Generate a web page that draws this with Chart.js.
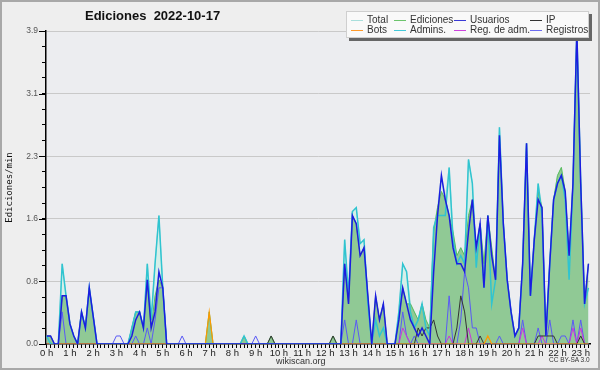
<!DOCTYPE html>
<html lang="es">
<head>
<meta charset="UTF-8">
<title>Ediciones 2022-10-17</title>
<script src="https://cdn.jsdelivr.net/npm/chart.js@4.4.0/dist/chart.umd.min.js"></script>
<style>
  html, body { margin: 0; padding: 0; background: #eeeeee; }
  #wrap { position: relative; width: 600px; height: 370px; overflow: hidden; font-family: 'Liberation Sans', Arial, sans-serif; }
  #frame { position: absolute; left: 0; top: 0; width: 600px; height: 370px; box-sizing: border-box; border: 2px solid #a8a8a8; pointer-events: none; }
  #title { position: absolute; left: 85px; top: 8px; font: bold 13px 'Liberation Sans', Arial, sans-serif; color: #111; white-space: pre; }
  #legend { position: absolute; left: 346px; top: 11px; width: 243px; height: 27px; box-sizing: border-box; background: #f9f9f9; border: 1px solid #cfcfcf; box-shadow: 3px 3px 0 #666; }
  .lg-text { position: absolute; font-size: 10px; line-height: 10px; color: #333; white-space: nowrap; }
  .lg-sw { position: absolute; width: 12px; height: 1px; }
  #site { position: absolute; left: 276px; top: 356px; font-size: 9px; line-height: 10px; color: #333; }
  #lic { position: absolute; left: 549px; top: 356px; font-size: 6.5px; line-height: 8px; color: #333; }
</style>
</head>
<body>
<div id="wrap">
  <canvas id="chart" width="600" height="370"></canvas>
  <div id="title">Ediciones  2022-10-17</div>
  <div id="legend"></div>
  <div id="site">wikiscan.org</div>
  <div id="lic">CC BY-SA 3.0</div>
  <div id="frame"></div>
</div>
<script>
// one value every 10 minutes, 0:00 .. 23:20 (edits per minute)
const hourLabels = ['0 h', '1 h', '2 h', '3 h', '4 h', '5 h', '6 h', '7 h', '8 h', '9 h', '10 h', '11 h',
  '12 h', '13 h', '14 h', '15 h', '16 h', '17 h', '18 h', '19 h', '20 h', '21 h', '22 h', '23 h']
const yLabels = ['0.0', '0.8', '1.6', '2.3', '3.1', '3.9']

const total = [
  0.1, 0.1, 0, 0, 1.0, 0.6,
  0.25, 0.1, 0, 0.4, 0.2, 0.7,
  0.35, 0, 0, 0, 0, 0,
  0, 0, 0, 0, 0.2, 0.4,
  0.4, 0.2, 1.0, 0.3, 1.0, 1.6,
  0.7, 0, 0, 0, 0, 0,
  0, 0, 0, 0, 0, 0,
  0.4, 0, 0, 0, 0, 0,
  0, 0, 0, 0.1, 0, 0,
  0, 0, 0, 0, 0.1, 0,
  0, 0, 0, 0, 0, 0,
  0, 0, 0, 0, 0, 0,
  0, 0, 0.1, 0, 0, 1.3,
  0.6, 1.65, 1.7, 1.25, 1.3, 0.6,
  0, 0.6, 0.3, 0.5, 0, 0,
  0, 0.4, 1.0, 0.9, 0.5, 0.4,
  0.3, 0.5, 0.3, 0.2, 1.45, 1.7,
  2.1, 1.8, 2.2, 1.4, 1.1, 1.2,
  1.1, 2.3, 2.0, 1.2, 1.5, 1.0,
  1.6, 1.2, 0.8, 2.7, 1.5, 0.8,
  0.4, 0.1, 0.2, 1.0, 2.5, 0.6,
  1.3, 2.0, 1.7, 0.1, 1.0, 1.8,
  2.1, 2.2, 1.9, 1.1, 2.0, 3.9,
  2.0, 0.5, 1.0
]
const edits = [
  0.1, 0.1, 0, 0, 0.6, 0.6,
  0.25, 0.1, 0, 0.4, 0.2, 0.7,
  0.35, 0, 0, 0, 0, 0,
  0, 0, 0, 0, 0.2, 0.4,
  0.4, 0.2, 0.8, 0.2, 0.6, 0.8,
  0.7, 0, 0, 0, 0, 0,
  0, 0, 0, 0, 0, 0,
  0.4, 0, 0, 0, 0, 0,
  0, 0, 0, 0.1, 0, 0,
  0, 0, 0, 0, 0.1, 0,
  0, 0, 0, 0, 0, 0,
  0, 0, 0, 0, 0, 0,
  0, 0, 0.1, 0, 0, 1.0,
  0.5, 1.6, 1.5, 1.1, 1.2, 0.6,
  0, 0.6, 0.3, 0.5, 0, 0,
  0, 0.3, 0.7, 0.5, 0.5, 0.4,
  0.3, 0.5, 0.3, 0.2, 1.4, 1.7,
  1.9, 1.8, 1.6, 1.4, 1.1, 1.2,
  1.1, 1.6, 1.8, 1.2, 1.5, 1.0,
  1.6, 1.2, 0.8, 2.6, 1.5, 0.8,
  0.4, 0.1, 0.2, 1.0, 2.5, 0.6,
  1.3, 1.9, 1.7, 0.1, 1.0, 1.8,
  2.1, 2.2, 1.9, 1.1, 2.0, 3.9,
  2.0, 0.5, 1.0
]
const users = [
  0.1, 0.1, 0, 0, 0.6, 0.6,
  0.25, 0.1, 0, 0.4, 0.2, 0.7,
  0.35, 0, 0, 0, 0, 0,
  0, 0, 0, 0, 0.1, 0.3,
  0.4, 0.2, 0.8, 0.2, 0.4, 0.9,
  0.7, 0, 0, 0, 0, 0,
  0, 0, 0, 0, 0, 0,
  0, 0, 0, 0, 0, 0,
  0, 0, 0, 0, 0, 0,
  0, 0, 0, 0, 0, 0,
  0, 0, 0, 0, 0, 0,
  0, 0, 0, 0, 0, 0,
  0, 0, 0, 0, 0, 1.0,
  0.5, 1.6, 1.5, 1.1, 1.2, 0.6,
  0, 0.6, 0.3, 0.5, 0, 0,
  0, 0.3, 0.7, 0.5, 0.3, 0.2,
  0.1, 0.2, 0.1, 0, 0.9, 1.6,
  2.1, 1.8, 1.6, 1.2, 1.0, 1.0,
  0.9, 1.4, 1.8, 1.2, 1.5, 0.7,
  1.6, 1.1, 0.8, 2.6, 1.5, 0.8,
  0.4, 0.1, 0.2, 1.0, 2.5, 0.6,
  1.3, 1.8, 1.7, 0.1, 1.0, 1.8,
  2.0, 2.1, 1.9, 1.1, 2.0, 3.9,
  2.0, 0.5, 1.0
]
const admins = [
  0.1, 0, 0, 0, 1.0, 0.6,
  0.25, 0.1, 0, 0.4, 0.2, 0.7,
  0.35, 0, 0, 0, 0, 0,
  0, 0, 0, 0, 0.2, 0.4,
  0.4, 0.2, 1.0, 0.3, 1.0, 1.6,
  0.7, 0, 0, 0, 0, 0,
  0, 0, 0, 0, 0, 0,
  0, 0, 0, 0, 0, 0,
  0, 0, 0, 0.1, 0, 0,
  0, 0, 0, 0, 0, 0,
  0, 0, 0, 0, 0, 0,
  0, 0, 0, 0, 0, 0,
  0, 0, 0, 0, 0, 1.3,
  0.6, 1.65, 1.7, 1.25, 1.3, 0.5,
  0, 0.3, 0.1, 0.2, 0, 0,
  0, 0.4, 1.0, 0.9, 0.4, 0.2,
  0.3, 0.5, 0.2, 0.1, 1.45, 1.6,
  1.6, 1.6, 2.2, 1.3, 1.0, 1.1,
  1.0, 2.3, 2.0, 0.95, 1.5, 0.7,
  1.6, 0.5, 0.8, 2.7, 1.5, 0.8,
  0.4, 0.1, 0.2, 1.0, 2.5, 0.6,
  1.3, 2.0, 1.6, 0.1, 1.0, 1.8,
  2.0, 2.1, 1.8, 0.8, 2.0, 3.9,
  2.0, 0.5, 0.7
]
const registros = [
  0, 0, 0, 0, 0.4, 0,
  0, 0, 0, 0, 0, 0,
  0, 0, 0, 0, 0, 0,
  0.1, 0.1, 0, 0, 0, 0.1,
  0, 0, 0.2, 0, 0.3, 0.7,
  0.7, 0, 0, 0, 0, 0.1,
  0, 0, 0, 0, 0, 0,
  0, 0, 0, 0, 0, 0,
  0, 0, 0, 0, 0, 0,
  0.1, 0, 0, 0, 0, 0,
  0, 0, 0, 0, 0, 0,
  0, 0, 0, 0, 0, 0,
  0, 0, 0, 0, 0, 0.3,
  0, 0, 0.3, 0, 0, 0,
  0, 0, 0, 0, 0, 0,
  0, 0, 0.4, 0.1, 0, 0.1,
  0, 0, 0, 0, 0, 0,
  0, 0, 0.6, 0, 0, 0.3,
  0.9, 0.7, 0.2, 0.2, 0, 0,
  0, 0, 0, 0.1, 0, 0,
  0, 0, 0, 0.3, 0, 0,
  0, 0.2, 0, 0, 0.3, 0,
  0, 0.1, 0.1, 0, 0.3, 0,
  0.3, 0, 0
]
const ip = [
  0, 0, 0, 0, 0, 0,
  0, 0, 0, 0, 0, 0,
  0, 0, 0, 0, 0, 0,
  0, 0, 0, 0, 0, 0,
  0, 0, 0, 0, 0, 0,
  0, 0, 0, 0, 0, 0,
  0, 0, 0, 0, 0, 0,
  0, 0, 0, 0, 0, 0,
  0, 0, 0, 0, 0, 0,
  0, 0, 0, 0, 0.1, 0,
  0, 0, 0, 0, 0, 0,
  0, 0, 0, 0, 0, 0,
  0, 0, 0.1, 0, 0, 0,
  0, 0, 0, 0, 0, 0,
  0, 0, 0, 0, 0, 0,
  0, 0, 0, 0, 0, 0,
  0.2, 0.1, 0.2, 0.2, 0.3, 0.1,
  0, 0, 0, 0, 0.2, 0.6,
  0.4, 0, 0, 0, 0.1, 0,
  0, 0, 0, 0, 0, 0,
  0, 0, 0, 0, 0, 0,
  0, 0.1, 0.1, 0.1, 0.1, 0.1,
  0, 0, 0, 0, 0, 0,
  0.1, 0, 0
]
const regAdm = [
  0, 0, 0, 0, 0, 0,
  0, 0, 0, 0, 0, 0,
  0, 0, 0, 0, 0, 0,
  0, 0, 0, 0, 0, 0,
  0, 0, 0, 0, 0, 0,
  0, 0, 0, 0, 0, 0,
  0, 0, 0, 0, 0, 0,
  0, 0, 0, 0, 0, 0,
  0, 0, 0, 0, 0, 0,
  0, 0, 0, 0, 0, 0,
  0, 0, 0, 0, 0, 0,
  0, 0, 0, 0, 0, 0,
  0, 0, 0, 0, 0, 0,
  0, 0, 0, 0, 0, 0,
  0, 0, 0, 0, 0, 0,
  0, 0, 0.2, 0.1, 0, 0,
  0, 0, 0, 0, 0, 0,
  0, 0, 0.1, 0, 0, 0,
  0, 0.2, 0, 0, 0, 0,
  0, 0, 0, 0, 0, 0,
  0, 0, 0, 0.2, 0, 0,
  0, 0, 0.1, 0, 0, 0,
  0, 0, 0, 0, 0.2, 0,
  0.2, 0, 0
]
const bots = [
  0, 0, 0, 0, 0, 0,
  0, 0, 0, 0, 0, 0,
  0, 0, 0, 0, 0, 0,
  0, 0, 0, 0, 0, 0,
  0, 0, 0, 0, 0, 0,
  0, 0, 0, 0, 0, 0,
  0, 0, 0, 0, 0, 0,
  0.4, 0, 0, 0, 0, 0,
  0, 0, 0, 0, 0, 0,
  0, 0, 0, 0, 0, 0,
  0, 0, 0, 0, 0, 0,
  0, 0, 0, 0, 0, 0,
  0, 0, 0, 0, 0, 0,
  0, 0, 0, 0, 0, 0,
  0, 0, 0, 0, 0, 0,
  0, 0, 0, 0, 0, 0,
  0, 0, 0, 0, 0, 0,
  0, 0, 0, 0, 0, 0,
  0, 0, 0, 0, 0, 0,
  0.1, 0, 0, 0, 0, 0,
  0, 0, 0, 0, 0, 0,
  0, 0, 0, 0, 0, 0,
  0, 0, 0, 0, 0, 0,
  0, 0, 0
]

// legend layout: two rows of four, same order as the original
const legendItems = [
  { name: 'Total', color: '#a9dfdc' },
  { name: 'Ediciones', color: '#6cc46c' },
  { name: 'Usuarios', color: '#3a3ad6' },
  { name: 'IP', color: '#333333' },
  { name: 'Bots', color: '#ff9a2a' },
  { name: 'Admins.', color: '#44c8d8' },
  { name: 'Reg. de adm.', color: '#cc44dd' },
  { name: 'Registros', color: '#6c6cf0' },
]

const legendBox = document.getElementById('legend')
const colX = [4, 47, 107, 183]
legendItems.forEach((item, i) => {
  const col = i % 4
  const row = Math.floor(i / 4)
  const sw = document.createElement('div')
  sw.className = 'lg-sw'
  sw.style.left = colX[col] + 'px'
  sw.style.top = (8 + row * 10) + 'px'
  sw.style.background = item.color
  legendBox.appendChild(sw)
  const t = document.createElement('div')
  t.className = 'lg-text'
  t.style.left = (colX[col] + 16) + 'px'
  t.style.top = (3 + row * 10) + 'px'
  t.textContent = item.name
  legendBox.appendChild(t)
})

function pts(arr) {
  return arr.map((v, i) => ({ x: i, y: v }))
}

function line(label, arr, color, width, order, extra) {
  return Object.assign({
    label: label,
    data: pts(arr),
    borderColor: color,
    borderWidth: width,
    pointRadius: 0,
    tension: 0,
    fill: false,
    order: order,
  }, extra || {})
}

const bgPlugin = {
  id: 'plotBg',
  beforeDraw(chart) {
    const ctx = chart.ctx
    const a = chart.chartArea
    ctx.save()
    ctx.fillStyle = '#eeeeee'
    ctx.fillRect(0, 0, chart.width, chart.height)
    ctx.fillStyle = '#ecedf0'
    ctx.fillRect(a.left, a.top, a.right - a.left, a.bottom - a.top)
    ctx.restore()
  },
  // longer tick marks on the labelled y values
  afterDraw(chart) {
    const ctx = chart.ctx
    const y = chart.scales.y
    ctx.save()
    ctx.strokeStyle = '#000'
    ctx.lineWidth = 1
    y.ticks.forEach((t, i) => {
      if (i % 4 !== 0) return
      const py = Math.round(y.getPixelForValue(t.value)) + 0.5
      ctx.beginPath()
      ctx.moveTo(y.right - 7, py)
      ctx.lineTo(y.right, py)
      ctx.stroke()
    })
    ctx.restore()
  },
}

const yMax = 3.9
const ctx = document.getElementById('chart').getContext('2d')
new Chart(ctx, {
  type: 'line',
  data: {
    datasets: [
      line('Total', total, '#a9dfdc', 1, 10, { fill: 'origin', backgroundColor: '#d6efe9' }),
      line('Ediciones', edits, '#5cbc5c', 1, 9, { fill: 'origin', backgroundColor: '#90c995' }),
      line('Registros', registros, '#5a5af5', 1, 7),
      line('Reg. de adm.', regAdm, '#cc33dd', 1, 6),
      line('IP', ip, '#333333', 1, 5),
      line('Bots', bots, '#ff9900', 1.2, 4),
      line('Admins.', admins, '#30c4d0', 1.5, 3),
      line('Usuarios', users, '#1c1ce0', 1.5, 2),
    ],
  },
  options: {
    responsive: false,
    animation: false,
    devicePixelRatio: 1,
    layout: { padding: { left: 0, top: 31, right: 10, bottom: 0 } },
    plugins: { legend: { display: false }, title: { display: false }, tooltip: { enabled: false } },
    scales: {
      x: {
        type: 'linear',
        min: -0.18,
        max: 140.4,
        z: 1,
        afterFit(scale) { scale.height = 26 },
        afterBuildTicks(scale) {
          const t = []
          for (let i = 0; i <= 140; i++) t.push({ value: i })
          scale.ticks = t
        },
        grid: { drawOnChartArea: false, tickLength: 4, color: '#000', tickColor: '#000', tickWidth: 1 },
        border: { color: '#000', width: 1.5 },
        ticks: {
          autoSkip: false,
          maxRotation: 0,
          padding: 0,
          color: '#222',
          font: { family: 'Liberation Sans', size: 9.5 },
          callback: v => (v % 6 === 0 ? hourLabels[v / 6] : ''),
        },
      },
      y: {
        min: 0,
        max: yMax,
        z: 1,
        afterFit(scale) { scale.width = 46 },
        afterBuildTicks(scale) {
          const t = []
          for (let k = 0; k <= 20; k++) t.push({ value: yMax * k / 20 })
          scale.ticks = t
        },
        grid: {
          tickLength: 4,
          color: c => (c.index % 4 === 0 && c.index > 0 ? '#c9c9c9' : 'rgba(0,0,0,0)'),
          tickColor: '#000',
        },
        border: { color: '#000', width: 1.5 },
        ticks: {
          autoSkip: false,
          padding: 4,
          color: '#555',
          font: { family: 'Liberation Sans', size: 8.5 },
          callback: (v, i) => (i % 4 === 0 ? yLabels[i / 4] : ''),
        },
        title: {
          display: true,
          text: 'Ediciones/min',
          color: '#111',
          padding: { top: 4, bottom: 0 },
          font: { family: 'DejaVu Sans Mono', size: 9 },
        },
      },
    },
  },
  plugins: [bgPlugin],
})
</script>
</body>
</html>
